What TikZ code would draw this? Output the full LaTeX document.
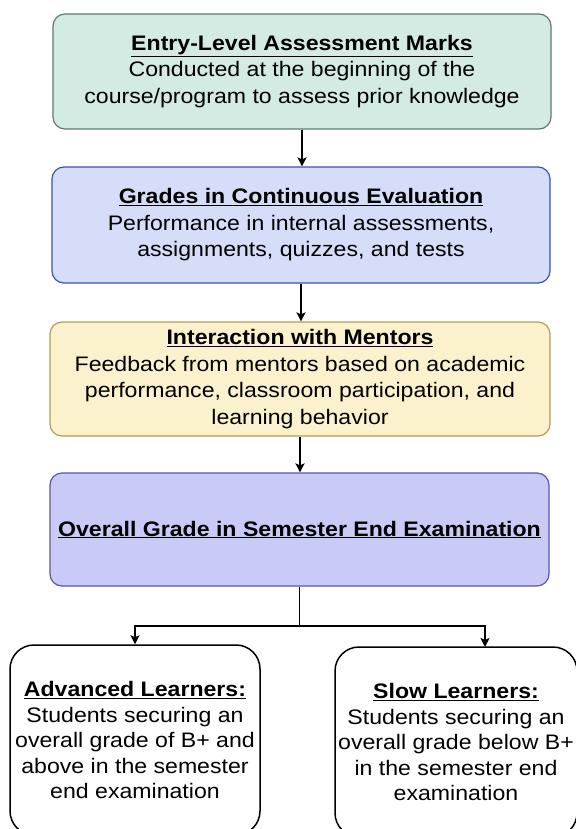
\documentclass[tikz,border=0pt]{standalone}
\usepackage{fontspec}
\setmainfont[FakeStretch=1.1]{Liberation Sans}
\usetikzlibrary{arrows.meta}
\definecolor{f1}{HTML}{D3EBE2}
\definecolor{d1}{HTML}{5E7C6C}
\definecolor{f2}{HTML}{D6DDF9}
\definecolor{d2}{HTML}{4050B4}
\definecolor{f3}{HTML}{FCF1CD}
\definecolor{d3}{HTML}{B89A55}
\definecolor{f4}{HTML}{CACAF6}
\definecolor{d4}{HTML}{5A54B2}
\tikzset{
  x=1pt,y=-1pt,
  box/.style={draw, line width=1.2pt, rounded corners=12pt, align=center, inner sep=0pt,
    font=\fontsize{21}{26.5}\selectfont},
  lbox/.style={draw=black, fill=white, line width=1.5pt, rounded corners=24pt, align=center, inner sep=0pt,
    font=\fontsize{21}{25.5}\selectfont},
  arr/.style={line width=1.6pt, -{Stealth[length=9pt,width=9pt,inset=2pt]}},
  ln/.style={line width=1.6pt}
}
\newcommand{\hd}[1]{\underline{\textbf{#1}}}
\begin{document}
\begin{tikzpicture}
\useasboundingbox[fill=white] (0,0) rectangle (575,829);
\node[box, fill=f1, draw=d1, minimum width=498pt, minimum height=115pt] (b1) at (302,71.5)
  {\hd{Entry-Level Assessment Marks}\\Conducted at the beginning of the\\course/program to assess prior knowledge};
\node[box, fill=f2, draw=d2, minimum width=498pt, minimum height=116pt] (b2) at (301,225)
  {\hd{Grades in Continuous Evaluation}\\Performance in internal assessments,\\assignments, quizzes, and tests};
\node[box, fill=f3, draw=d3, minimum width=500pt, minimum height=114pt] (b3) at (300,379)
  {\hd{Interaction with Mentors}\\Feedback from mentors based on academic\\performance, classroom participation, and\\learning behavior};
\node[box, fill=f4, draw=d4, minimum width=499pt, minimum height=113pt] (b4) at (299.5,529.5)
  {\hd{Overall Grade in Semester End Examination}};
\node[lbox, minimum width=250pt, minimum height=190pt] (b5) at (135,740)
  {\hd{Advanced Learners:}\\Students securing an\\overall grade of B+ and\\above in the semester\\end examination};
\node[lbox, minimum width=242pt, minimum height=190pt] (b6) at (456,742)
  {\hd{Slow Learners:}\\Students securing an\\overall grade below B+\\in the semester end\\examination};
\draw[arr] (b1.south -| 302,0) -- (b2.north -| 302,0);
\draw[arr] (b2.south -| 301,0) -- (b3.north -| 301,0);
\draw[arr] (b3.south -| 300,0) -- (b4.north -| 300,0);
\coordinate (j) at (299.5,626);
\coordinate (t6) at (485,647);
\draw[ln] (b4.south) -- (j);
\draw[arr] (j) -| (b5.north);
\draw[arr] (j) -| (t6);
\end{tikzpicture}
\end{document}
